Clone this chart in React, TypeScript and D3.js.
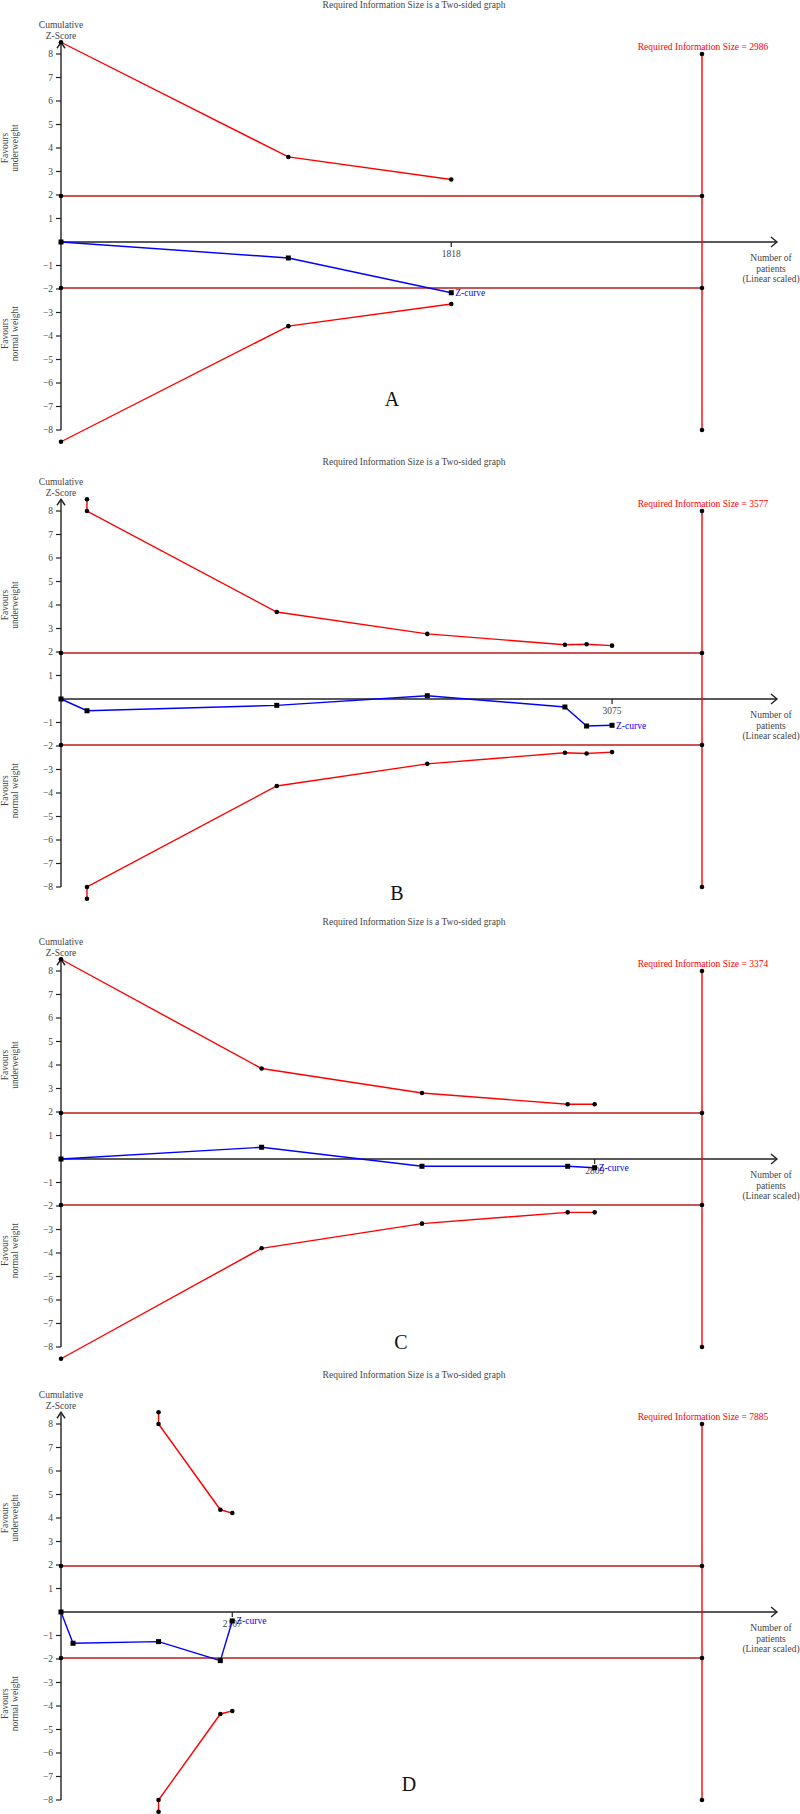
import React from "react";
import * as d3 from "d3";

// cumulative z-curves and monitoring boundaries, one set per panel
const panelLetters = ["A", "B", "C", "D"];
const risValues = [2986, 3577, 3374, 7885];

const zPatientsA = [0, 1059, 1818];
const zScoresA = [0, -0.68, -2.16];
const boundPatientsA = [0, 1059, 1818];
const upperA = [8.5, 3.62, 2.66];
const lowerA = [-8.5, -3.58, -2.64];

const zPatientsB = [0, 145, 1204, 2044, 2812, 2933, 3075];
const zScoresB = [0, -0.5, -0.27, 0.14, -0.34, -1.15, -1.12];
const boundPatientsB = [145, 145, 1204, 2044, 2812, 2933, 3075];
const upperB = [8.5, 8, 3.7, 2.77, 2.31, 2.33, 2.27];
const lowerB = [-8.5, -8, -3.7, -2.76, -2.29, -2.32, -2.26];

const zPatientsC = [0, 1056, 1900, 2667, 2809];
const zScoresC = [0, 0.5, -0.31, -0.31, -0.37];
const boundPatientsC = [0, 1056, 1900, 2667, 2809];
const upperC = [8.5, 3.85, 2.81, 2.33, 2.33];
const lowerC = [-8.5, -3.8, -2.75, -2.27, -2.27];

const zPatientsD = [0, 148, 1200, 1960, 2107];
const zScoresD = [0, -1.33, -1.26, -2.07, -0.38];
const boundPatientsD = [1200, 1200, 1960, 2107];
const upperD = [8.5, 8, 4.35, 4.21];
const lowerD = [-8.5, -8, -4.34, -4.21];

const yTicks = [8, 7, 6, 5, 4, 3, 2, 1, -1, -2, -3, -4, -5, -6, -7, -8];
const conventionalZ = 1.96;

const panels = [
  { zN: zPatientsA, zV: zScoresA, bN: boundPatientsA, up: upperA, lo: lowerA },
  { zN: zPatientsB, zV: zScoresB, bN: boundPatientsB, up: upperB, lo: lowerB },
  { zN: zPatientsC, zV: zScoresC, bN: boundPatientsC, up: upperC, lo: lowerC },
  { zN: zPatientsD, zV: zScoresD, bN: boundPatientsD, up: upperD, lo: lowerD },
];

// layout
const W = 800;
const H = 1814;
const panelTop = [0, 457, 917, 1370];
const letterX = [392, 397, 401, 409];
const letterZ = [-6.7, -8.25, -7.8, -7.3];
const x0 = 61;
const xRis = 702;
const xEnd = 777;
const zero = 242;
const unit = 23.5;

const font = "'Liberation Serif', 'Times New Roman', serif";
const RED = "#ff0000";
const DARKRED = "#b81c1c";
const BLUE = "#0000ff";
const AXIS = "#222";
const GREY = "#444";

type PanelProps = {
  idx: number;
};

const Panel = ({ idx }: PanelProps) => {
  const p = panels[idx];
  const ris = risValues[idx];
  const top = panelTop[idx];
  const x = d3.scaleLinear().domain([0, ris]).range([x0, xRis]);
  const y = d3
    .scaleLinear()
    .domain([-8, 8])
    .range([top + zero + 8 * unit, top + zero - 8 * unit]);

  const line = d3
    .line<[number, number]>()
    .x((d) => x(d[0]))
    .y((d) => y(d[1]));

  const upPts: [number, number][] = p.bN.map((n, i) => [n, p.up[i]]);
  const loPts: [number, number][] = p.bN.map((n, i) => [n, p.lo[i]]);
  const zPts: [number, number][] = p.zN.map((n, i) => [n, p.zV[i]]);
  const lastN = p.zN[p.zN.length - 1];
  const lastZ = p.zV[p.zV.length - 1];
  const y0 = y(0);
  const tip = y(8.5);

  const dot = (cx: number, cy: number, k: string) => (
    <circle key={k} cx={cx} cy={cy} r={2.3} fill="#000" />
  );

  return (
    <g fontFamily={font}>
      <text x={414} y={top + 8} fontSize={9.5} fill={GREY} textAnchor="middle">
        Required Information Size is a Two-sided graph
      </text>
      <text x={x0} y={top + 28} fontSize={9.5} fill={GREY} textAnchor="middle">
        Cumulative
      </text>
      <text x={x0} y={top + 38.5} fontSize={9.5} fill={GREY} textAnchor="middle">
        Z-Score
      </text>

      {/* side captions */}
      <text
        transform={`translate(5, ${y(4)}) rotate(-90)`}
        fontSize={9.5}
        fill={GREY}
        textAnchor="middle"
        dy="0.35em"
      >
        <tspan x={0}>Favours</tspan>
        <tspan x={0} dy="1.05em">underweight</tspan>
      </text>
      <text
        transform={`translate(5, ${y(-3.9)}) rotate(-90)`}
        fontSize={9.5}
        fill={GREY}
        textAnchor="middle"
        dy="0.35em"
      >
        <tspan x={0}>Favours</tspan>
        <tspan x={0} dy="1.05em">normal weight</tspan>
      </text>

      {/* y axis */}
      <line x1={x0} x2={x0} y1={tip} y2={y(-8)} stroke={AXIS} strokeWidth={1.4} />
      <polyline
        points={`${x0 - 4},${tip + 6} ${x0},${tip} ${x0 + 4},${tip + 6}`}
        fill="none"
        stroke={AXIS}
        strokeWidth={1.4}
      />
      {yTicks.map((t) => (
        <g key={t}>
          <line x1={x0 - 5} x2={x0} y1={y(t)} y2={y(t)} stroke={AXIS} strokeWidth={1.2} />
          <text x={x0 - 8} y={y(t)} dy="0.35em" fontSize={9.5} fill={GREY} textAnchor="end">
            {t < 0 ? `\u2212${-t}` : t}
          </text>
        </g>
      ))}

      {/* x axis */}
      <line x1={x0} x2={xEnd} y1={y0} y2={y0} stroke={AXIS} strokeWidth={1.4} />
      <polyline
        points={`${xEnd - 6},${y0 - 5} ${xEnd},${y0} ${xEnd - 6},${y0 + 5}`}
        fill="none"
        stroke={AXIS}
        strokeWidth={1.4}
      />
      <line x1={x(lastN)} x2={x(lastN)} y1={y0} y2={y0 + 5} stroke={AXIS} strokeWidth={1.2} />
      <text x={x(lastN)} y={y0 + 14.5} fontSize={9.5} fill={GREY} textAnchor="middle">
        {lastN}
      </text>
      <text fontSize={9.5} fill={GREY} textAnchor="middle">
        <tspan x={771} y={y0 + 19}>Number of</tspan>
        <tspan x={771} y={y0 + 29.5}>patients</tspan>
        <tspan x={771} y={y0 + 40}>(Linear scaled)</tspan>
      </text>

      {/* conventional boundaries */}
      {[conventionalZ, -conventionalZ].map((c) => (
        <g key={c}>
          <line x1={x0} x2={x(ris)} y1={y(c)} y2={y(c)} stroke={DARKRED} strokeWidth={1.4} />
          {dot(x0, y(c), "a")}
        </g>
      ))}

      {/* required information size */}
      <line x1={x(ris)} x2={x(ris)} y1={y(8)} y2={y(-8)} stroke={RED} strokeWidth={1.4} />
      {[8, conventionalZ, -conventionalZ, -8].map((c) => dot(x(ris), y(c), `r${c}`))}
      <text x={x(ris) + 1} y={y(8) - 4} fontSize={9.5} fill={RED} textAnchor="middle">
        Required Information Size = {ris}
      </text>

      {/* monitoring boundaries */}
      <path d={line(upPts) || ""} fill="none" stroke={RED} strokeWidth={1.4} />
      <path d={line(loPts) || ""} fill="none" stroke={RED} strokeWidth={1.4} />
      {upPts.map((d, i) => dot(x(d[0]), y(d[1]), `u${i}`))}
      {loPts.map((d, i) => dot(x(d[0]), y(d[1]), `l${i}`))}

      {/* z-curve */}
      <path d={line(zPts) || ""} fill="none" stroke={BLUE} strokeWidth={1.4} />
      {zPts.map((d, i) => (
        <rect key={`z${i}`} x={x(d[0]) - 2.5} y={y(d[1]) - 2.5} width={5} height={5} fill="#000" />
      ))}
      <text x={x(lastN) + 4} y={y(lastZ)} dy="0.35em" fontSize={9.5} fill={BLUE}>
        Z-curve
      </text>

      <text x={letterX[idx]} y={y(letterZ[idx])} dy="0.35em" fontSize={20} fill="#111" textAnchor="middle">
        {panelLetters[idx]}
      </text>
    </g>
  );
};

export default function App() {
  return (
    <svg
      width={W}
      height={H}
      style={{ position: "absolute", left: 0, top: 0, background: "#fff" }}
    >
      <rect width={W} height={H} fill="#fff" />
      {panels.map((_, i) => (
        <Panel key={i} idx={i} />
      ))}
    </svg>
  );
}
